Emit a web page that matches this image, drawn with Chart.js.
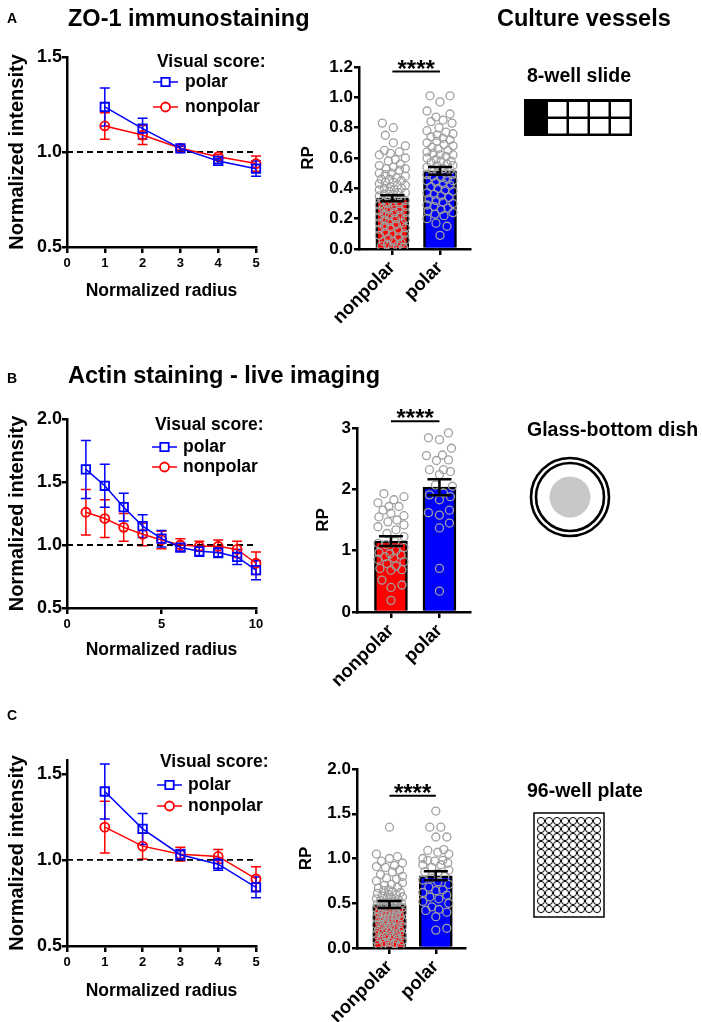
<!DOCTYPE html>
<html>
<head>
<meta charset="utf-8">
<script src="https://cdn.jsdelivr.net/npm/chart.js@4.4.1/dist/chart.umd.min.js"></script>
<style>
  html, body { margin: 0; padding: 0; background: #fff; }
  #page { position: relative; width: 702px; height: 1022px; overflow: hidden; }
  canvas { position: absolute; }
  svg { position: absolute; left: 0; top: 0; pointer-events: none; }
  svg text { font-family: "Liberation Sans", Arial, Helvetica, sans-serif; font-weight: bold; fill: #000; }
</style>
</head>
<body>
<div id="page">
  <canvas id="lineA" width="280" height="280" style="left:0;top:30px"></canvas>
  <canvas id="barA" width="200" height="300" style="left:285px;top:40px"></canvas>
  <canvas id="lineB" width="280" height="280" style="left:0;top:390px"></canvas>
  <canvas id="barB" width="185" height="300" style="left:302px;top:400px"></canvas>
  <canvas id="lineC" width="280" height="280" style="left:0;top:730px"></canvas>
  <canvas id="barC" width="200" height="282" style="left:285px;top:740px"></canvas>
  <svg id="art" width="702" height="1022">
    <text x="7" y="23" font-size="14">A</text>
    <text x="68" y="26" font-size="23.5">ZO-1 immunostaining</text>
    <text x="497" y="26" font-size="23.5">Culture vessels</text>
    <text x="527" y="82" font-size="19.5">8-well slide</text>
    <text x="7" y="383" font-size="14">B</text>
    <text x="68" y="383" font-size="23.5">Actin staining - live imaging</text>
    <text x="527" y="436" font-size="19.5">Glass-bottom dish</text>
    <text x="7" y="720" font-size="14">C</text>
    <text x="527" y="797" font-size="19.5">96-well plate</text>
    <g id="slide"></g>
    <g id="dish">
      <circle cx="570" cy="497" r="39" fill="none" stroke="#000" stroke-width="2.6"/>
      <circle cx="570" cy="497" r="34" fill="none" stroke="#000" stroke-width="2.6"/>
      <circle cx="570" cy="497" r="20.5" fill="#c8c8c8"/>
    </g>
    <g id="plate">
      <rect x="534" y="813" width="70" height="104" fill="#fff" stroke="#000" stroke-width="1.5"/>
    </g>
  </svg>
</div>
<script>
// ---------- data ----------
const groups = ['nonpolar', 'polar'];
const legendTitle = 'Visual score:';
const legendItems = ['polar', 'nonpolar'];
const refValue = 1.0;
const sigText = '****';

// A - ZO-1 immunostaining
const radiusA = [1, 2, 3, 4, 5];
const polarA = [1.237, 1.123, 1.019, 0.953, 0.912];
const polarErrA = [0.10, 0.055, 0.012, 0.012, 0.04];
const nonpolarA = [1.137, 1.089, 1.02, 0.975, 0.939];
const nonpolarErrA = [0.07, 0.05, 0.01, 0.012, 0.04];
const xTicksA = [0, 1, 2, 3, 4, 5];
const yTicksA = [0.5, 1.0, 1.5];
const rpMeanA = [0.335, 0.515];
const rpSemA = [0.02, 0.025];
const rpTicksA = [0, 0.2, 0.4, 0.6, 0.8, 1.0, 1.2];
const sigA = 1.17;
const rpNonpolarA = [0.83, 0.80, 0.75, 0.70, 0.68, 0.65, 0.64, 0.63, 0.62, 0.60, 0.59, 0.58, 0.56, 0.55, 0.54,
  0.53, 0.53, 0.52, 0.50, 0.50, 0.49, 0.48, 0.47, 0.46, 0.46, 0.45, 0.44, 0.44, 0.43, 0.42, 0.42, 0.41,
  0.40, 0.40, 0.39, 0.39, 0.38, 0.37, 0.37, 0.36, 0.36, 0.35, 0.34, 0.34, 0.33, 0.32, 0.32, 0.31, 0.30,
  0.30, 0.29, 0.28, 0.28, 0.27, 0.26, 0.26, 0.25, 0.24, 0.24, 0.23, 0.22, 0.22, 0.21, 0.20, 0.20, 0.19,
  0.18, 0.17, 0.17, 0.16, 0.15, 0.14, 0.14, 0.13, 0.12, 0.11, 0.10, 0.10, 0.09, 0.08, 0.07, 0.06, 0.05,
  0.05, 0.04, 0.03, 0.02, 0.02, 0.01, 0.01];
const rpPolarA = [1.01, 1.01, 0.97, 0.91, 0.89, 0.87, 0.85, 0.84, 0.83, 0.80, 0.78, 0.77, 0.76, 0.75, 0.74,
  0.73, 0.72, 0.71, 0.70, 0.69, 0.68, 0.67, 0.66, 0.65, 0.64, 0.63, 0.62, 0.62, 0.61, 0.60, 0.59, 0.58,
  0.58, 0.57, 0.56, 0.55, 0.55, 0.54, 0.53, 0.52, 0.52, 0.51, 0.50, 0.49, 0.49, 0.48, 0.47, 0.46, 0.45,
  0.45, 0.44, 0.43, 0.42, 0.41, 0.40, 0.39, 0.38, 0.37, 0.36, 0.35, 0.34, 0.33, 0.32, 0.31, 0.30, 0.29,
  0.28, 0.27, 0.26, 0.25, 0.24, 0.23, 0.22, 0.20, 0.17, 0.15, 0.09];

// B - Actin staining, live imaging
const radiusB = [1, 2, 3, 4, 5, 6, 7, 8, 9, 10];
const polarB = [1.60, 1.47, 1.30, 1.15, 1.05, 0.98, 0.95, 0.94, 0.905, 0.80];
const polarErrB = [0.23, 0.17, 0.11, 0.09, 0.065, 0.03, 0.04, 0.04, 0.06, 0.075];
const nonpolarB = [1.26, 1.21, 1.14, 1.085, 1.04, 1.00, 0.99, 0.99, 0.965, 0.855];
const nonpolarErrB = [0.18, 0.15, 0.11, 0.09, 0.07, 0.05, 0.04, 0.05, 0.065, 0.09];
const xTicksB = [0, 5, 10];
const yTicksB = [0.5, 1.0, 1.5, 2.0];
const rpMeanB = [1.157, 2.035];
const rpSemB = [0.08, 0.13];
const rpTicksB = [0, 1, 2, 3];
const sigB = 3.11;
const rpNonpolarB = [1.93, 1.88, 1.83, 1.78, 1.72, 1.72, 1.66, 1.61, 1.57, 1.55, 1.50, 1.47, 1.42, 1.39,
  1.34, 1.28, 1.23, 1.12, 1.10, 1.05, 0.97, 0.95, 0.93, 0.90, 0.88, 0.82, 0.79, 0.75, 0.71, 0.69, 0.68,
  0.52, 0.44, 0.40, 0.19, 1.00, 0.86, 1.15];
const rpPolarB = [2.92, 2.84, 2.81, 2.67, 2.56, 2.55, 2.48, 2.47, 2.32, 2.32, 2.29, 2.24, 2.07, 2.05,
  1.94, 1.91, 1.88, 1.83, 1.66, 1.62, 1.58, 1.45, 1.37, 0.71, 0.34];

// C - 96-well plate
const radiusC = [1, 2, 3, 4, 5];
const polarC = [1.397, 1.18, 1.03, 0.975, 0.84];
const polarErrC = [0.16, 0.09, 0.03, 0.035, 0.06];
const nonpolarC = [1.19, 1.08, 1.033, 1.02, 0.89];
const nonpolarErrC = [0.15, 0.075, 0.04, 0.04, 0.07];
const xTicksC = [0, 1, 2, 3, 4, 5];
const yTicksC = [0.5, 1.0, 1.5];
const rpMeanC = [0.486, 0.807];
const rpSemC = [0.04, 0.05];
const rpTicksC = [0, 0.5, 1.0, 1.5, 2.0];
const sigC = 1.70;
const rpNonpolarC = [1.35, 1.05, 1.02, 1.00, 0.97, 0.95, 0.92, 0.91, 0.90, 0.87, 0.85, 0.82, 0.80, 0.78,
  0.77, 0.75, 0.73, 0.71, 0.70, 0.68, 0.67, 0.65, 0.64, 0.63, 0.62, 0.61, 0.60, 0.59, 0.58, 0.57, 0.56,
  0.55, 0.55, 0.54, 0.53, 0.52, 0.51, 0.50, 0.50, 0.49, 0.48, 0.47, 0.46, 0.45, 0.45, 0.44, 0.43, 0.42,
  0.41, 0.40, 0.40, 0.39, 0.38, 0.37, 0.36, 0.35, 0.35, 0.34, 0.33, 0.32, 0.31, 0.30, 0.30, 0.29, 0.28,
  0.27, 0.26, 0.25, 0.24, 0.23, 0.22, 0.21, 0.20, 0.19, 0.18, 0.17, 0.16, 0.15, 0.14, 0.13, 0.12, 0.11,
  0.10, 0.09, 0.08, 0.07, 0.06, 0.05, 0.04, 0.03, 0.02];
const rpPolarC = [1.53, 1.35, 1.35, 1.24, 1.24, 1.10, 1.09, 1.07, 1.05, 1.00, 0.98, 0.98, 0.97, 0.95,
  0.93, 0.93, 0.90, 0.87, 0.85, 0.83, 0.80, 0.78, 0.76, 0.74, 0.71, 0.68, 0.65, 0.64, 0.62, 0.59, 0.57,
  0.55, 0.52, 0.50, 0.46, 0.43, 0.42, 0.40, 0.35, 0.22, 0.20];

// ---------- styling ----------
const FONT = '"Liberation Sans", Arial, Helvetica, sans-serif';
const BLUE = '#0000ff', RED = '#ff0000', GRAY = '#a0a0a0';
Chart.defaults.font.family = FONT;
Chart.defaults.color = '#000';
const bold = size => ({ family: FONT, size: size, weight: 'bold', lineHeight: 1.2 });
const axisLine = { color: '#000', width: 2.5 };

function errorBars(sets, before) {
  const draw = chart => {
    const { ctx, scales: { x, y } } = chart;
    sets.forEach(s => {
      ctx.save();
      ctx.strokeStyle = s.color;
      ctx.lineWidth = s.width;
      s.xs.forEach((xv, i) => {
        const px = x.getPixelForValue(xv);
        const top = y.getPixelForValue(s.ys[i] + s.err[i]);
        const bot = y.getPixelForValue(s.ys[i] - s.err[i]);
        ctx.beginPath();
        ctx.moveTo(px, top); ctx.lineTo(px, bot);
        ctx.moveTo(px - s.cap, top); ctx.lineTo(px + s.cap, top);
        ctx.moveTo(px - s.cap, bot); ctx.lineTo(px + s.cap, bot);
        ctx.stroke();
      });
      ctx.restore();
    });
  };
  return before ? { id: 'errBefore', beforeDatasetsDraw: draw } : { id: 'errAfter', afterDatasetsDraw: draw };
}

function visualScoreLegend(pos) {
  return {
    id: 'visualScore',
    afterDraw(chart) {
      const { ctx, chartArea } = chart;
      const x0 = chartArea.left, y0 = chartArea.top;
      ctx.save();
      ctx.fillStyle = '#000';
      ctx.textBaseline = 'middle';
      ctx.font = 'bold 17.5px ' + FONT;
      ctx.fillText(legendTitle, x0 + pos.title, y0 + pos.rows[0]);
      legendItems.forEach((name, i) => {
        const ds = chart.data.datasets.find(d => d.label === name);
        const y = y0 + pos.rows[i + 1];
        const lx = x0 + pos.line, cx = lx + 12.5;
        ctx.strokeStyle = ds.borderColor;
        ctx.lineWidth = 1.5;
        ctx.beginPath(); ctx.moveTo(lx, y); ctx.lineTo(lx + 25, y); ctx.stroke();
        ctx.lineWidth = 1.8;
        ctx.fillStyle = '#fff';
        ctx.beginPath();
        if (ds.pointStyle === 'rect') ctx.rect(cx - 4.2, y - 4.2, 8.4, 8.4);
        else ctx.arc(cx, y, 4.5, 0, Math.PI * 2);
        ctx.fill(); ctx.stroke();
        ctx.fillStyle = '#000';
        ctx.fillText(name, x0 + pos.text, y);
      });
      ctx.restore();
    }
  };
}

function makeLine(id, p) {
  const canvas = document.getElementById(id);
  const top = parseFloat(canvas.style.top);
  const W = canvas.width, H = canvas.height;
  const yTitleSize = 20, xTitleSize = 17.5;
  const padLeft = 17.5 - 0.6 * yTitleSize;
  const areaBottom = p.area.b - top;
  const scaleBottom = p.xTitleY - top + 0.6 * xTitleSize;
  const pts = (xs, ys) => xs.map((x, i) => ({ x: x, y: ys[i] }));
  const series = (label, ys, color, style, radius, order) => ({
    label: label, data: pts(p.radius, ys), borderColor: color, borderWidth: 1.5,
    pointStyle: style, pointRadius: radius, pointBorderWidth: 1.8, pointBorderColor: color,
    pointBackgroundColor: 'rgba(255,255,255,0)', clip: false, order: order
  });
  return new Chart(canvas, {
    type: 'line',
    data: {
      datasets: [
        { label: 'ref', data: [{ x: p.xTicks[0], y: refValue }, { x: p.xTicks[p.xTicks.length - 1], y: refValue }],
          borderColor: '#000', borderWidth: 1.8, borderDash: [6, 4], pointRadius: 0, order: 3 },
        series('nonpolar', p.nonpolar, RED, 'circle', 4.5, 2),
        series('polar', p.polar, BLUE, 'rect', 6, 1)
      ]
    },
    options: {
      responsive: false, animation: false, events: [],
      layout: { padding: { left: padLeft, top: p.area.t - top, right: W - p.area.r, bottom: H - scaleBottom } },
      plugins: { legend: { display: false }, tooltip: { enabled: false } },
      scales: {
        x: {
          type: 'linear', min: p.xTicks[0], max: p.xTicks[p.xTicks.length - 1],
          afterBuildTicks: s => { s.ticks = p.xTicks.map(v => ({ value: v })); },
          afterFit: s => { s.height = scaleBottom - areaBottom; },
          ticks: { font: bold(13), color: '#000', padding: 3 },
          grid: { drawOnChartArea: false, tickLength: 6, color: '#000', lineWidth: 2.5 },
          border: axisLine,
          title: { display: true, text: 'Normalized radius', font: bold(xTitleSize), color: '#000', padding: 0 }
        },
        y: {
          type: 'linear', min: p.yMin, max: p.yMax,
          afterBuildTicks: s => { s.ticks = p.yTicks.map(v => ({ value: v })); },
          afterFit: s => { s.width = p.area.l - padLeft; },
          ticks: { font: bold(18), color: '#000', padding: 0, callback: v => v.toFixed(1) },
          grid: { drawOnChartArea: false, tickLength: 5, color: '#000', lineWidth: 2.5 },
          border: axisLine,
          title: { display: true, text: 'Normalized intensity', font: bold(yTitleSize), color: '#000', padding: 0 }
        }
      }
    },
    plugins: [
      errorBars([
        { xs: p.radius, ys: p.nonpolar, err: p.nonpolarErr, color: RED, width: 1.5, cap: 5 },
        { xs: p.radius, ys: p.polar, err: p.polarErr, color: BLUE, width: 1.5, cap: 5 }
      ], true),
      visualScoreLegend(p.legend)
    ]
  });
}

function significance(value) {
  return {
    id: 'significance',
    afterDraw(chart) {
      const { ctx, scales: { x, y } } = chart;
      const py = y.getPixelForValue(value);
      const x1 = x.getPixelForValue(1), x2 = x.getPixelForValue(2);
      ctx.save();
      ctx.strokeStyle = '#000';
      ctx.lineWidth = 2;
      ctx.beginPath(); ctx.moveTo(x1, py); ctx.lineTo(x2, py); ctx.stroke();
      ctx.fillStyle = '#000';
      ctx.font = 'bold 24px ' + FONT;
      ctx.textAlign = 'center';
      ctx.textBaseline = 'alphabetic';
      ctx.fillText(sigText, (x1 + x2) / 2, py + 5);
      ctx.restore();
    }
  };
}

// spreads points sideways (beeswarm) so circles overlap less
function swarm(chart, dsIndex, center, values, gap, lim) {
  const xs = chart.scales.x, ys = chart.scales.y;
  const unit = xs.getPixelForValue(1) - xs.getPixelForValue(0);
  const placed = [];
  const out = new Array(values.length);
  const order = values.map((v, i) => i).sort((a, b) => values[a] - values[b]);
  order.forEach(i => {
    const py = ys.getPixelForValue(values[i]);
    let best = 0, bestD = -1;
    for (let k = 0; k <= 2 * lim; k++) {
      const dx = (k % 2 ? 1 : -1) * Math.ceil(k / 2);
      let d = Infinity;
      placed.forEach(q => { const dd = Math.hypot(q.x - dx, q.y - py); if (dd < d) d = dd; });
      if (d >= gap) { best = dx; bestD = d; break; }
      if (d > bestD) { bestD = d; best = dx; }
    }
    placed.push({ x: best, y: py });
    out[i] = { x: center + best / unit, y: values[i] };
  });
  chart.data.datasets[dsIndex].data = out;
}

function makeBar(id, p) {
  const canvas = document.getElementById(id);
  const left = parseFloat(canvas.style.left), top = parseFloat(canvas.style.top);
  const W = canvas.width, H = canvas.height;
  const titleSize = 17;
  const padLeft = p.titleX - left - 0.6 * titleSize;
  const dots = values => ({
    type: 'scatter', data: values.map(v => ({ x: 1, y: v })), showLine: false,
    pointRadius: 4, pointBorderWidth: 1.3, pointBorderColor: GRAY,
    pointBackgroundColor: 'rgba(255,255,255,0)', order: 1
  });
  const chart = new Chart(canvas, {
    type: 'bar',
    data: {
      datasets: [
        { type: 'bar', label: 'RP', data: p.mean.map((m, i) => ({ x: i + 1, y: m })),
          backgroundColor: [RED, BLUE], borderColor: '#000', borderWidth: 2.5, barThickness: 33, order: 2 },
        dots(p.nonpolarPts),
        dots(p.polarPts)
      ]
    },
    options: {
      responsive: false, animation: false, events: [],
      layout: { padding: { left: padLeft, top: p.area.t - top, right: left + W - p.area.r, bottom: 0 } },
      plugins: { legend: { display: false }, tooltip: { enabled: false } },
      scales: {
        x: {
          type: 'linear', min: 0.3, max: 2.63, offset: false,
          afterBuildTicks: s => { s.ticks = groups.map((g, i) => ({ value: i + 1 })); },
          afterFit: s => { s.height = H - (p.area.b - top); },
          ticks: { font: bold(18.5), color: '#000', padding: 2, minRotation: 45, maxRotation: 45, autoSkip: false,
                   callback: v => groups[v - 1] },
          grid: { drawOnChartArea: false, offset: false, tickLength: 6, color: '#000', lineWidth: 2.5 },
          border: axisLine
        },
        y: {
          type: 'linear', min: 0, max: p.ticks[p.ticks.length - 1],
          afterBuildTicks: s => { s.ticks = p.ticks.map(v => ({ value: v })); },
          afterFit: s => { s.width = p.area.l - left - padLeft; },
          ticks: { font: bold(17), color: '#000', padding: 1, callback: v => v.toFixed(p.decimals) },
          grid: { drawOnChartArea: false, tickLength: 5, color: '#000', lineWidth: 2.5 },
          border: axisLine,
          title: { display: true, text: 'RP', font: bold(titleSize), color: '#000', padding: 0 }
        }
      }
    },
    plugins: [
      errorBars([{ xs: [1, 2], ys: p.mean, err: p.sem, color: '#000', width: 2.5, cap: 12 }], false),
      significance(p.sig)
    ]
  });
  swarm(chart, 1, 1, p.nonpolarPts, 11, 13);
  swarm(chart, 2, 2, p.polarPts, 11, 13);
  chart.update('none');
  return chart;
}

// ---------- charts ----------
makeLine('lineA', { radius: radiusA, polar: polarA, polarErr: polarErrA, nonpolar: nonpolarA, nonpolarErr: nonpolarErrA,
  xTicks: xTicksA, yTicks: yTicksA, yMin: 0.5, yMax: 1.5, area: { l: 67, r: 256, t: 57, b: 247 }, xTitleY: 291,
  legend: { title: 90, line: 86, text: 118, rows: [5, 25, 50] } });
makeLine('lineB', { radius: radiusB, polar: polarB, polarErr: polarErrB, nonpolar: nonpolarB, nonpolarErr: nonpolarErrB,
  xTicks: xTicksB, yTicks: yTicksB, yMin: 0.5, yMax: 2.0, area: { l: 67, r: 256, t: 419, b: 608 }, xTitleY: 650,
  legend: { title: 88, line: 85, text: 116, rows: [6, 28, 48] } });
makeLine('lineC', { radius: radiusC, polar: polarC, polarErr: polarErrC, nonpolar: nonpolarC, nonpolarErr: nonpolarErrC,
  xTicks: xTicksC, yTicks: yTicksC, yMin: 0.5, yMax: 1.58, area: { l: 67, r: 256, t: 760, b: 946 }, xTitleY: 991,
  legend: { title: 93, line: 90, text: 121, rows: [2, 25, 46] } });

makeBar('barA', { mean: rpMeanA, sem: rpSemA, nonpolarPts: rpNonpolarA, polarPts: rpPolarA, ticks: rpTicksA,
  decimals: 1, sig: sigA, titleX: 308.5, area: { l: 359, r: 470, t: 67, b: 249 } });
makeBar('barB', { mean: rpMeanB, sem: rpSemB, nonpolarPts: rpNonpolarB, polarPts: rpPolarB, ticks: rpTicksB,
  decimals: 0, sig: sigB, titleX: 323, area: { l: 357, r: 470, t: 428, b: 612 } });
makeBar('barC', { mean: rpMeanC, sem: rpSemC, nonpolarPts: rpNonpolarC, polarPts: rpPolarC, ticks: rpTicksC,
  decimals: 1, sig: sigC, titleX: 306, area: { l: 357, r: 465, t: 769, b: 948 } });

// ---------- culture vessel sketches ----------
const NS = 'http://www.w3.org/2000/svg';
function svgEl(parent, tag, attrs) {
  const el = document.createElementNS(NS, tag);
  Object.keys(attrs).forEach(k => el.setAttribute(k, attrs[k]));
  document.getElementById(parent).appendChild(el);
}
svgEl('slide', 'rect', { x: 524, y: 99, width: 108, height: 37, fill: '#000' });
for (let c = 0; c < 4; c++) {
  for (let r = 0; r < 2; r++) {
    svgEl('slide', 'rect', { x: 548 + 21 * c, y: 102 + 17 * r, width: 18.5, height: 14.5, fill: '#fff' });
  }
}
for (let c = 0; c < 8; c++) {
  for (let r = 0; r < 12; r++) {
    svgEl('plate', 'circle', { cx: 541 + 8 * c, cy: 821 + 8 * r, r: 3.6, fill: 'none', stroke: '#000', 'stroke-width': 1 });
  }
}
</script>
</body>
</html>
